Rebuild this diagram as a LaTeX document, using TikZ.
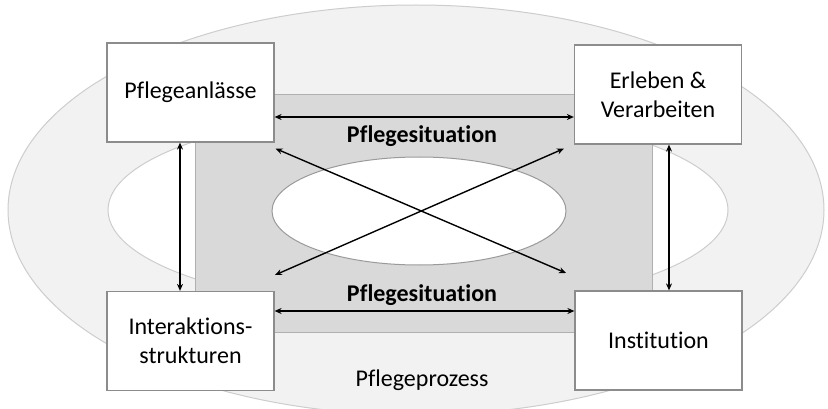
\documentclass[tikz,border=0pt]{standalone}
\usepackage{fontspec}
\setmainfont{Carlito}[Ligatures=NoCommon]
\usetikzlibrary{arrows.meta}
\definecolor{outerfill}{HTML}{F2F2F2}
\definecolor{outerline}{HTML}{CDCDCD}
\definecolor{rectfill}{HTML}{D9D9D9}
\definecolor{rectline}{HTML}{B0B0B0}
\definecolor{boxline}{HTML}{8C8C8C}
\definecolor{ellline}{HTML}{9A9A9A}
\tikzset{
  box/.style={draw=boxline, line width=1.2pt, fill=white, minimum width=167pt, minimum height=99pt, align=center, inner sep=0pt, font=\fontsize{24}{29}\selectfont},
  conn/.style={line width=1.4pt, {Stealth[length=7pt,width=6pt]}-{Stealth[length=7pt,width=6pt]}},
  lbl/.style={font=\fontsize{24}{29}\selectfont, anchor=base, inner sep=0pt}
}
\begin{document}
\begin{tikzpicture}[x=1pt,y=-1pt]
\useasboundingbox (0,0) rectangle (828,409);
\clip (0,0) rectangle (828,409);
% outer ellipse
\fill[outerfill, draw=outerline, line width=1pt] (416,210) ellipse [x radius=408, y radius=205];
% ring ellipse
\fill[white, draw=outerline, line width=1pt] (418,210) ellipse [x radius=310, y radius=99];
% gray rectangle
\draw[fill=rectfill, draw=rectline, line width=1pt] (195,95) rectangle (652,332);
% inner white ellipse
\draw[fill=white, draw=ellline, line width=1pt] (419,211) ellipse [x radius=147, y radius=54];
% boxes
\node[box] (pa) at (190.5,92.5) {Pflegeanlässe};
\node[box] (ev) at (658,94.5) {Erleben \&\\Verarbeiten};
\node[box] (is) at (190.5,341) {Interaktions-\\strukturen};
\node[box] (in) at (658.5,340.5) {Institution};
% labels
\node[lbl, font=\fontsize{24}{29}\selectfont\bfseries] (ps1) at (422,143) {Pflegesituation};
\node[lbl, font=\fontsize{24}{29}\selectfont\bfseries] (ps2) at (422,301) {Pflegesituation};
\node[lbl] (pp) at (422,386) {Pflegeprozess};
% connectors
\draw[conn] (pa.east |- 0,117) -- (ev.west |- 0,117);
\draw[conn] (is.east |- 0,311) -- (in.west |- 0,311);
\draw[conn] (pa.south -| 180,0) -- (is.north -| 180,0);
\draw[conn] (ev.south -| 669,0) -- (in.north -| 669,0);
\coordinate (d1e) at (566,273);
\coordinate (d2e) at (275,275);
\draw[conn] (pa.south east) ++(1,6) -- (d1e);
\draw[conn] (ev.south west) ++(-10,4) -- (d2e);
\end{tikzpicture}
\end{document}
